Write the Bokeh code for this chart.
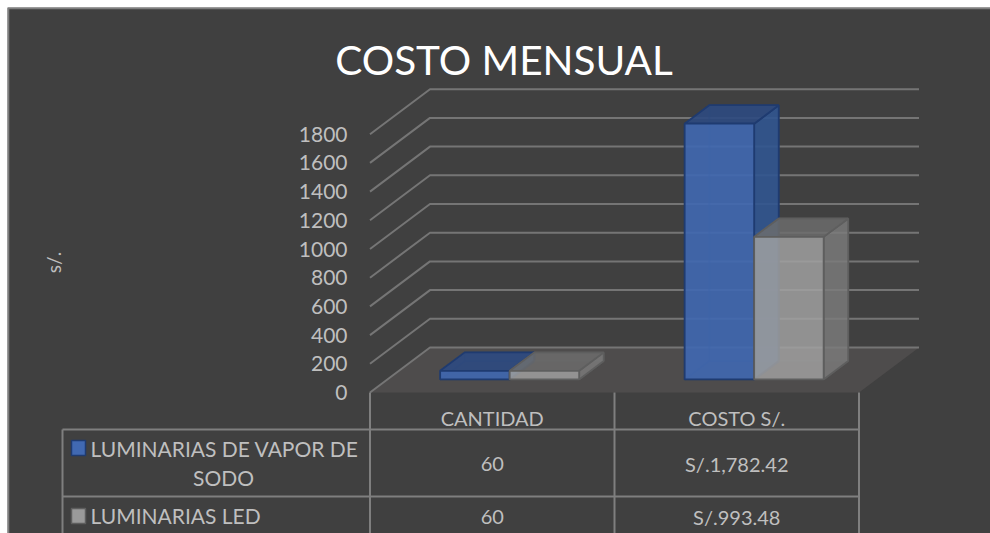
import math
from bokeh.plotting import figure
from bokeh.embed import file_html
from bokeh.resources import INLINE
from bokeh.models import FixedTicker, Range1d
from bokeh.core.properties import value

TITLE = "COSTO MENSUAL"
Y_LABEL = "s/."
CATEGORIES = ["CANTIDAD", "COSTO S/."]
SERIES_1_NAME = "LUMINARIAS  DE VAPOR DE\nSODO"
SERIES_2_NAME = "LUMINARIAS LED"
SERIES_1 = [60, 1782.42]
SERIES_2 = [60, 993.48]
SERIES_1_LABELS = ["60", "S/.1,782.42"]
SERIES_2_LABELS = ["60", "S/.993.48"]
Y_TICKS = [0, 200, 400, 600, 800, 1000, 1200, 1400, 1600, 1800]

ORIGIN = 7
W, H = 990 - ORIGIN, 533 - ORIGIN
FONT = "Lato"
BG = "#404040"
GRID = "#757575"
FRAME = "#7f7f7f"
TEXT = "#bfbfbf"
FLOOR = "#4e4c4c"

# page-pixel layout of the plot box
X0_PX, Y0_PX = 369.5, 392.0
CAT_PX = 244.5
VAL_PX = (347.3 - 89.0) / 1800
DEPTH_DX, DEPTH_DY = 60.0, 45.0


def xd(px):
    return (px - X0_PX) / CAT_PX


def yd(py):
    return (Y0_PX - py) / VAL_PX


p = figure(width=W, height=H, output_backend="svg", toolbar_location=None,
           x_range=Range1d(xd(ORIGIN), xd(ORIGIN + W)), y_range=Range1d(yd(ORIGIN + H), yd(ORIGIN)),
           min_border=0, x_axis_type=None)
p.margin = (ORIGIN, 0, 0, ORIGIN)
p.background_fill_color = BG
p.border_fill_color = BG
p.outline_line_color = None
p.grid.visible = False

ax = p.yaxis[0]
ax.fixed_location = xd(358)
ax.ticker = FixedTicker(ticks=Y_TICKS)
ax.axis_line_color = None
ax.major_tick_line_color = None
ax.minor_tick_line_color = None
ax.major_label_standoff = 5
ax.major_label_text_color = TEXT
ax.major_label_text_font = FONT
ax.major_label_text_font_size = "21px"


def proj(x, y, d):
    """Oblique projection: x in categories, y in value units, d in floor depth 0..1"""
    return x + d * DEPTH_DX / CAT_PX, y + d * DEPTH_DY / VAL_PX


# frame of the whole chart
p.line([xd(8), xd(8), xd(ORIGIN + W)], [yd(ORIGIN + H), yd(8), yd(8)], line_color=FRAME, line_width=1.6)

# floor
fx, fy = zip(*[proj(0, 0, 0), proj(0, 0, 1), proj(2, 0, 1), proj(2, 0, 0)])
p.patch(list(fx), list(fy), fill_color=FLOOR, line_color=None)

# gridlines: front-left wall edge then back wall
for t in Y_TICKS:
    xs, ys = zip(*[proj(0, t, 0), proj(0, t, 1), proj(2, t, 1)])
    p.line(list(xs), list(ys), line_color=GRID, line_width=2)


def box(xa, xb, top, d0, d1, front, side, upper, edge, solid):
    corners = lambda pts: [list(c) for c in zip(*[proj(*q) for q in pts])]
    faces = [
        ([(xa, 0, d1), (xb, 0, d1), (xb, top, d1), (xa, top, d1)], side),  # back
        ([(xa, 0, d0), (xa, 0, d1), (xa, top, d1), (xa, top, d0)], side),  # left
        ([(xa, 0, d0), (xb, 0, d0), (xb, 0, d1), (xa, 0, d1)], upper),  # bottom
        ([(xb, 0, d0), (xb, 0, d1), (xb, top, d1), (xb, top, d0)], side),  # right
        ([(xa, top, d0), (xb, top, d0), (xb, top, d1), (xa, top, d1)], upper),  # top
        ([(xa, 0, d0), (xb, 0, d0), (xb, top, d0), (xa, top, d0)], front),  # front
    ]
    for i, (pts, col) in enumerate(faces):
        xs, ys = corners(pts)
        hidden = i < 3
        p.patch(xs, ys, fill_color=col, fill_alpha=0.3 if hidden else solid,
                line_color=edge, line_alpha=0.2 if hidden else 1, line_width=1.8)


BAR_W = 69.5 / CAT_PX
D0, D1 = 0.29, 0.70
BLUE = ("#4169b2", "#31558f", "#2d4a80", "#1f3b70", 0.88)
GRAY = ("#a6a6a6", "#7c7c7c", "#6c6c6c", "#5e5e5e", 0.76)
for i in range(len(CATEGORIES)):
    c = i + 0.5
    box(c - BAR_W, c, SERIES_1[i], D0, D1, *BLUE)
    box(c, c + BAR_W, SERIES_2[i], D0, D1, *GRAY)


def text(px, py, s, size, color=TEXT, align="center", angle=0.0):
    p.text([xd(px)], [yd(py)], text=[s], text_color=color, text_font=value(FONT),
           text_font_size=f"{size}px", text_align=align, text_baseline="middle", angle=angle)


text(503.5, 59, TITLE, 40.5, color="#ffffff")
text(53, 262, Y_LABEL, 19, angle=math.pi / 2)

# data table
V = [369.5, 614, 858.5]
TL = 62
R = [392, 429, 496, 533]
RULE = 2
for vx in V:
    p.line([xd(vx)] * 2, [yd(R[0]), yd(R[3])], line_color=FRAME, line_width=RULE)
p.line([xd(TL)] * 2, [yd(R[1]), yd(R[3])], line_color=FRAME, line_width=RULE)
p.line([xd(TL), xd(V[2])], [yd(R[1])] * 2, line_color=FRAME, line_width=RULE)
p.line([xd(TL), xd(V[2])], [yd(R[2])] * 2, line_color=FRAME, line_width=RULE)

for i, c in enumerate(CATEGORIES):
    cx = (V[i] + V[i + 1]) / 2
    text(cx, 417.5, c, 20)
    text(cx, 463, SERIES_1_LABELS[i], 20)
    text(cx, 516, SERIES_2_LABELS[i], 20)

# legend keys and names
line1, line2 = SERIES_1_NAME.split("\n")
text(90, 448, line1, 21, align="left")
text(223, 477, line2, 21)
text(90, 515, SERIES_2_NAME, 21, align="left")
for top, col, edge in ((440, "#4169b2", "#1f3b70"), (508, "#9a9a9a", "#5e5e5e")):
    p.patch([xd(71), xd(85), xd(85), xd(71)], [yd(top), yd(top), yd(top + 15), yd(top + 15)],
            fill_color=col, line_color=edge, line_width=1.5)

open("out.html", "w").write(file_html(p, INLINE))
